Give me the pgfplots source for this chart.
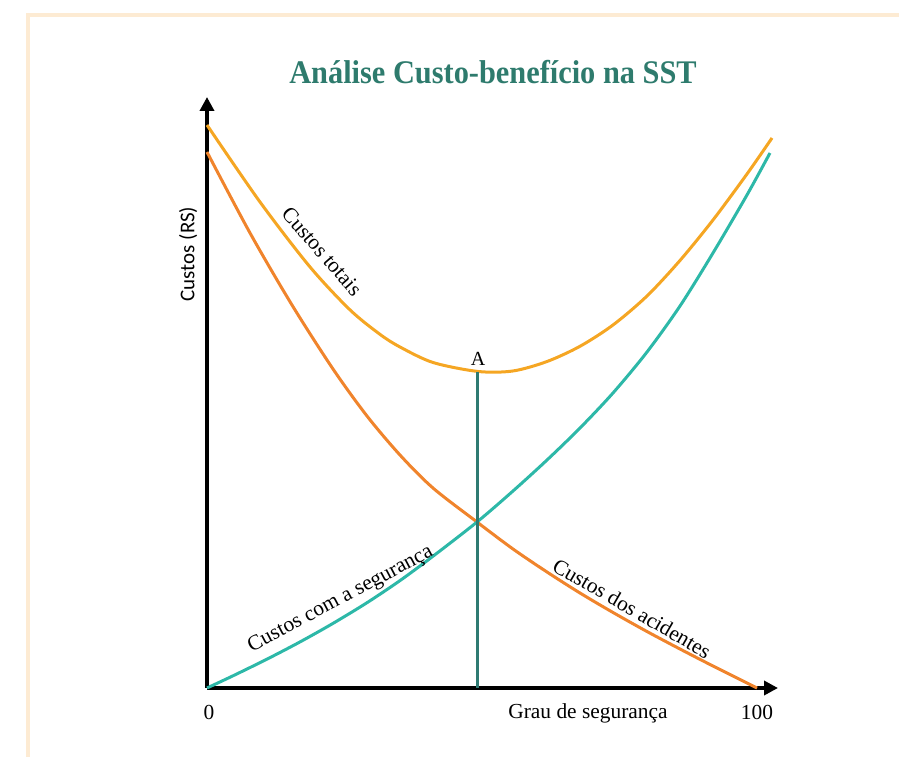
\documentclass[border=0pt]{standalone}
\usepackage{pgfplots}
\pgfplotsset{compat=1.18}
\usepackage{fontspec}
\setmainfont{Liberation Serif}
\newfontfamily\calib{Carlito}
\usetikzlibrary{arrows.meta}
\definecolor{frame}{HTML}{FDEBD3}
\definecolor{tot}{HTML}{F5A623}
\definecolor{acc}{HTML}{F0842C}
\definecolor{seg}{HTML}{2DB8A8}
\definecolor{vline}{HTML}{2E7A72}
\definecolor{ttl}{HTML}{2E7B6D}
\begin{document}
\begin{tikzpicture}
\path[use as bounding box] (0,0) rectangle (449.5pt,378.5pt);
\draw[frame, line width=2pt] (14pt,0) -- (14pt,371pt) -- (449.5pt,371pt);
\begin{axis}[
  at={(103.5pt,34.5pt)}, anchor=south west,
  scale only axis, width=285.5pt, height=295.5pt,
  xmin=0, xmax=103.82, ymin=0, ymax=107.45,
  axis lines=left,
  axis line style={line width=1.75pt, -{Triangle[length=7pt,width=7pt]}},
  xtick=\empty, ytick=\empty,
  clip=false,
]
% Custos totais
\addplot[tot, line width=1.5pt, smooth] coordinates {
(0,102.36) (9.64,88.36) (18.73,76.55) (26.0,68.75) (31.45,64.3) (35.09,62.0)
(41.09,59.18) (49.27,57.55) (55.64,57.64) (61.82,59.36) (67.82,62.13) (73.82,66.0)
(80.0,71.27) (86.0,77.73) (92.0,85.09) (98.18,93.45) (102.73,100.0)
};
% Custos dos acidentes
\addplot[acc, line width=1.5pt, smooth] coordinates {
(0,97.45) (7.82,82.73) (15.45,69.64) (22.91,58.0) (29.09,49.45) (35.09,42.36)
(41.09,36.36) (49.09,30.18) (55.64,25.27) (61.82,21.09) (67.82,17.27) (73.82,13.73)
(80.0,10.27) (86.0,7.09) (92.0,4.0) (100,0)
};
% Custos com a seguranca
\addplot[seg, line width=1.5pt, smooth] coordinates {
(0,0) (4.73,2.22) (10.91,5.25) (16.91,8.38) (22.91,11.75) (29.09,15.51)
(35.09,19.53) (41.09,23.96) (49.09,30.18) (55.64,35.82) (61.82,41.45) (67.82,47.27)
(73.82,53.64) (80.0,61.09) (86.0,69.45) (92.0,79.09) (98.18,89.64) (102.36,97.27)
};
% linha A
\addplot[vline, line width=1.5pt] coordinates {(49.27,0) (49.27,57.4)};

\node[anchor=south, inner sep=0pt, font=\fontsize{10}{12}\selectfont] at (axis cs:49.27,58.6) {A};
\node[rotate=-49, font=\fontsize{10.7}{12}\selectfont] at (axis cs:20.9,79.4) {Custos totais};
\node[rotate=28, font=\fontsize{10.7}{12}\selectfont] at (axis cs:24.3,16.1) {Custos com a segurança};
\node[rotate=-30, font=\fontsize{10.7}{12}\selectfont] at (axis cs:77.27,14.5) {Custos dos acidentes};
\node[font=\fontsize{10.7}{12}\selectfont] at (axis cs:69.27,-4.55) {Grau de segurança};
\node[font=\fontsize{10.7}{12}\selectfont] at (axis cs:0.36,-4.36) {0};
\node[font=\fontsize{10.7}{12}\selectfont] at (axis cs:100,-4.36) {100};
\node[rotate=90, font=\calib\fontsize{10.5}{12}\selectfont] at (axis cs:-3.45,78.9) {Custos (RS)};
\node[text=ttl, font=\fontsize{16.5}{20}\selectfont\bfseries] at (axis cs:52.0,112.0) {\scalebox{0.92}[1]{Análise Custo-benefício na SST}};
\end{axis}
\end{tikzpicture}
\end{document}
